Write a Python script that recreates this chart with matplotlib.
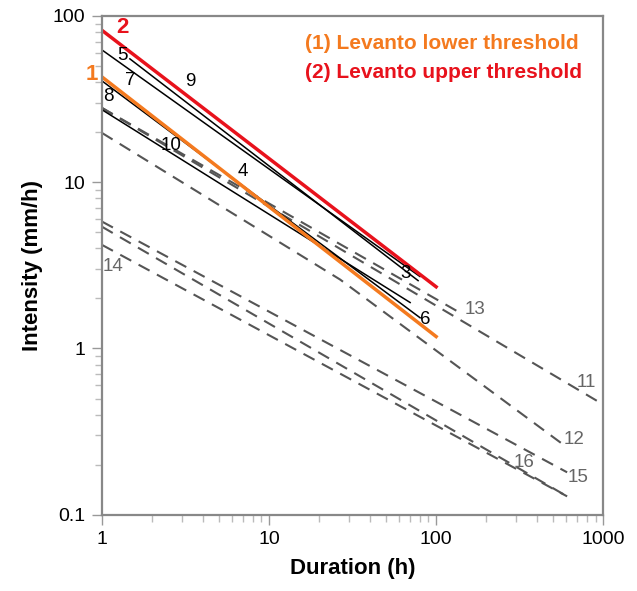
import numpy as np
import matplotlib
matplotlib.use("Agg")
import matplotlib.pyplot as plt
from matplotlib.ticker import LogLocator, NullFormatter

plt.rcParams['font.family'] = ['Liberation Sans', 'DejaVu Sans']

# --- DỮ LIỆU ---
# ngưỡng Levanto
levanto_low_x = [1, 100]
levanto_low_y = [43, 1.18]
levanto_up_x = [1, 100]
levanto_up_y = [82, 2.35]

# các ngưỡng khác - nét liền
solid_x = [[1, 80], [1.47, 78], [1, 80.2], [1, 69.9]]
solid_y = [[62.5, 2.71], [55.2, 2.56], [40.7, 1.53], [27.3, 1.89]]

# các ngưỡng khác - nét đứt
dash_x = [[1, 1000], [1, 145], [1, 26.6, 608], [1, 608], [1, 608], [1, 608]]
dash_y = [[28, 0.46], [28, 1.6], [19.8, 2.6, 0.254], [5.8, 0.18], [5.4, 0.129], [4.2, 0.129]]

# nhãn số của từng đường
black_labels = ['5', '7', '9', '8', '10', '4', '3', '6']
black_lx = [1.318, 1.47, 3.37, 1.10, 2.59, 6.99, 65.2, 85.9]
black_ly = [57.5, 40.7, 40.3, 32.6, 16.6, 11.6, 2.82, 1.49]
gray_labels = ['13', '11', '12', '15', '16', '14']
gray_lx = [171, 791, 670, 708, 337, 1.164]
gray_ly = [1.71, 0.625, 0.284, 0.168, 0.207, 3.11]

orange = '#F47A1F'
red = '#E8121C'
gray = '#555555'

fig = plt.figure(figsize=(6.37, 5.91), dpi=100)
ax = fig.add_axes([0.160, 0.129, 0.787, 0.844])

for xs, ys in zip(dash_x, dash_y):
    ax.plot(xs, ys, color=gray, lw=1.5, dashes=(6, 4))
for xs, ys in zip(solid_x, solid_y):
    ax.plot(xs, ys, color='black', lw=1.1)
ax.plot(levanto_low_x, levanto_low_y, color=orange, lw=2.5)
ax.plot(levanto_up_x, levanto_up_y, color=red, lw=2.5)

ax.set_xscale('log')
ax.set_yscale('log')
ax.set_xlim(1, 1000)
ax.set_ylim(0.1, 100)

ax.set_xticks([1, 10, 100, 1000])
ax.set_xticklabels(['1', '10', '100', '1000'])
ax.set_yticks([0.1, 1, 10, 100])
ax.set_yticklabels(['0.1', '1', '10', '100'])
ax.xaxis.set_minor_locator(LogLocator(base=10, subs=np.arange(2, 10)))
ax.yaxis.set_minor_locator(LogLocator(base=10, subs=np.arange(2, 10)))
ax.xaxis.set_minor_formatter(NullFormatter())
ax.yaxis.set_minor_formatter(NullFormatter())
ax.tick_params(which='major', length=7, width=1, color='#999999', labelsize=14, pad=5)
ax.tick_params(which='minor', length=5, width=1, color='#bbbbbb')

for s in ax.spines.values():
    s.set_color('#888888')
    s.set_linewidth(1.6)

ax.set_xlabel('Duration (h)', fontsize=16, fontweight='bold', labelpad=7)
ax.set_ylabel('Intensity (mm/h)', fontsize=16, fontweight='bold', labelpad=7)

for t, x, y in zip(black_labels, black_lx, black_ly):
    ax.text(x, y, t, fontsize=13.5, color='black', ha='center', va='center')
for t, x, y in zip(gray_labels, gray_lx, gray_ly):
    ax.text(x, y, t, fontsize=13.5, color='#666666', ha='center', va='center')

ax.text(1.318, 84.7, '2', fontsize=16, fontweight='bold', color=red, ha='center', va='center')
ax.text(0.871, 44.2, '1', fontsize=16, fontweight='bold', color=orange, ha='center', va='center', clip_on=False)

ax.text(0.405, 0.944, '(1) Levanto lower threshold', transform=ax.transAxes,
        fontsize=15, fontweight='bold', color=orange, ha='left', va='center')
ax.text(0.405, 0.886, '(2) Levanto upper threshold', transform=ax.transAxes,
        fontsize=15, fontweight='bold', color=red, ha='left', va='center')

fig.savefig('out.png', dpi=100)
